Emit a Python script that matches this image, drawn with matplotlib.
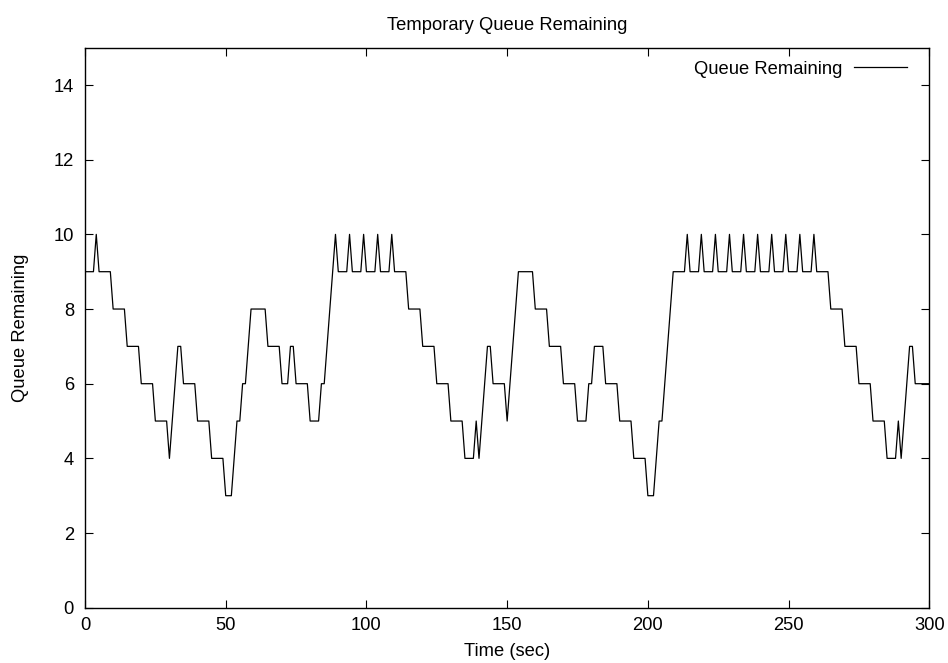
import matplotlib
matplotlib.use("Agg")
import matplotlib.pyplot as plt

# Vertices of the queue trace (time in sec, queue length)
times = [0, 3, 4, 5, 9, 10, 14, 15, 19, 20, 24, 25, 29, 30, 33, 34, 35, 39, 40, 44, 45, 49, 50, 52,
         54, 55, 56, 57, 59, 64, 65, 69, 70, 72, 73, 74, 75, 79, 80, 83, 84, 85,
         89, 90, 93, 94, 95, 98, 99, 100, 103, 104, 105, 108, 109, 110, 114, 115, 119, 120, 124, 125,
         129, 130, 134, 135, 138, 139, 140, 143, 144, 145, 149, 150, 154, 159, 160, 164, 165, 169,
         170, 174, 175, 178, 179, 180, 181, 184, 185, 189, 190, 194, 195, 199, 200, 202, 204, 205,
         209, 213, 214, 215, 218, 219, 220, 223, 224, 225, 228, 229, 230, 233, 234, 235, 238, 239,
         240, 243, 244, 245, 248, 249, 250, 253, 254, 255, 258, 259, 260, 264, 265, 269, 270, 274,
         275, 279, 280, 284, 285, 288, 289, 290, 293, 294, 295, 300]
queue = [9, 9, 10, 9, 9, 8, 8, 7, 7, 6, 6, 5, 5, 4, 7, 7, 6, 6, 5, 5, 4, 4, 3, 3,
         5, 5, 6, 6, 8, 8, 7, 7, 6, 6, 7, 7, 6, 6, 5, 5, 6, 6,
         10, 9, 9, 10, 9, 9, 10, 9, 9, 10, 9, 9, 10, 9, 9, 8, 8, 7, 7, 6,
         6, 5, 5, 4, 4, 5, 4, 7, 7, 6, 6, 5, 9, 9, 8, 8, 7, 7,
         6, 6, 5, 5, 6, 6, 7, 7, 6, 6, 5, 5, 4, 4, 3, 3, 5, 5,
         9, 9, 10, 9, 9, 10, 9, 9, 10, 9, 9, 10, 9, 9, 10, 9, 9, 10,
         9, 9, 10, 9, 9, 10, 9, 9, 10, 9, 9, 10, 9, 9, 8, 8, 7, 7,
         6, 6, 5, 5, 4, 4, 5, 4, 7, 7, 6, 6]

x_ticks = [0, 50, 100, 150, 200, 250, 300]
y_ticks = [0, 2, 4, 6, 8, 10, 12, 14]

plt.rcParams['font.family'] = ['Liberation Sans', 'DejaVu Sans']
FS = 13.2

fig = plt.figure(figsize=(9.48, 6.63), dpi=100)
ax = fig.add_axes([85/948, 1 - 607.7/663, (929.3 - 85)/948, (607.7 - 47.7)/663])

ax.plot(times, queue, color='black', linewidth=0.9, label='Queue Remaining')

ax.set_xlim(0, 300)
ax.set_ylim(0, 15)
ax.set_xticks(x_ticks)
ax.set_yticks(y_ticks)
ax.tick_params(direction='in', length=6, width=0.8, top=True, right=True,
               labelsize=FS, colors='black')
ax.tick_params(axis='x', pad=6.5)
ax.tick_params(axis='y', pad=8)
for s in ax.spines.values():
    s.set_linewidth(1.0)
    s.set_color('black')

ax.set_xlabel('Time (sec)', fontsize=FS, labelpad=6.5)
ax.set_ylabel('Queue Remaining', fontsize=FS, labelpad=18)
ax.set_title('Temporary Queue Remaining', fontsize=FS, pad=13)

leg = ax.legend(loc='upper right', bbox_to_anchor=(0.9824, 0.990), frameon=False,
                markerfirst=False, fontsize=FS, handlelength=2.9, handletextpad=0.65,
                borderaxespad=0.0)

fig.savefig('out.png', dpi=100)
